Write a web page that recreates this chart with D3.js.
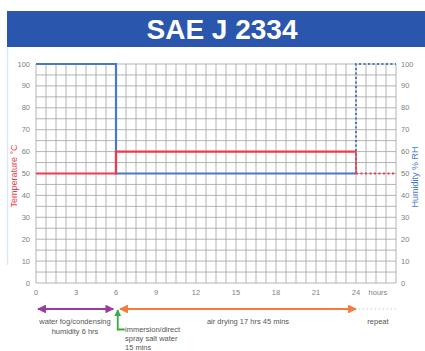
<!DOCTYPE html>
<html><head><meta charset="utf-8">
<script src="https://cdn.jsdelivr.net/npm/d3@7"></script>
<style>body{margin:0;background:#fff}svg{display:block;font-family:"Liberation Sans",Arial,sans-serif}</style>
</head><body>
<script>
const title = "SAE J 2334";
const xTicks = [0,3,6,9,12,15,18,21,24];
const yTicks = [0,10,20,30,40,50,60,70,80,90,100];
// temperature (°C) step series: hour, value
const tempHours = [0,6,24,24];
const tempValues = [50,60,60,50];
const tempRepeatHours = [24,27];
const tempRepeatValues = [50,50];
// humidity (% RH) step series
const humHours = [0,6,24];
const humValues = [100,50,50];
const humRepeatHours = [24,24,27];
const humRepeatValues = [50,100,100];
const phases = ["water fog/condensing","humidity  6 hrs"];
const phase2 = ["immersion/direct","spray salt water","15 mins"];
const phase3 = "air drying 17 hrs 45 mins";
const phase4 = "repeat";

const W=425,H=351;
const svg=d3.select("body").append("svg").attr("width",W).attr("height",H);
const x=d3.scaleLinear().domain([0,27]).range([36,396]);
const y=d3.scaleLinear().domain([0,100]).range([283,64]);
const red="#ec3c4c", blue="#4a78c8";

svg.append("rect").attr("x",7).attr("y",11).attr("width",418).attr("height",36).attr("fill","#2a57ad");
svg.append("text").attr("x",222).attr("y",39).attr("text-anchor","middle").attr("fill","#fff")
  .attr("font-size",28).attr("font-weight","bold").text(title);
svg.append("line").attr("x1",7.5).attr("x2",7.5).attr("y1",47).attr("y2",265).attr("stroke","#dfe8f6").attr("stroke-width",1.5);

// grid
const g=svg.append("g").attr("stroke","#ababab").attr("stroke-width",0.9);
g.selectAll("line.v").data(d3.range(0,27.01,0.75)).join("line")
  .attr("x1",d=>x(d)).attr("x2",d=>x(d)).attr("y1",y(100)).attr("y2",y(0));
g.selectAll("line.h").data(d3.range(0,100.01,5)).join("line")
  .attr("y1",d=>y(d)).attr("y2",d=>y(d)).attr("x1",x(0)).attr("x2",x(27));

svg.append("g").selectAll("text").data(yTicks).join("text")
  .attr("x",30).attr("y",d=>y(d)+2.5).attr("text-anchor","end").attr("fill","#808080").attr("font-size",7.5).text(d=>d);
svg.append("g").selectAll("text").data(yTicks).join("text")
  .attr("x",401).attr("y",d=>y(d)+2.5).attr("fill","#808080").attr("font-size",7.5).text(d=>d);
svg.append("g").selectAll("text").data(xTicks).join("text")
  .attr("x",d=>x(d)).attr("y",295).attr("text-anchor","middle").attr("fill","#808080").attr("font-size",7.5).text(d=>d);
svg.append("text").attr("x",378).attr("y",295).attr("text-anchor","middle").attr("fill","#808080").attr("font-size",7.5).text("hours");

svg.append("text").attr("transform","translate(17,176) rotate(-90)").attr("text-anchor","middle")
  .attr("fill",red).attr("font-size",9).text("Temperature °C");
svg.append("text").attr("transform","translate(418,177) rotate(-90)").attr("text-anchor","middle")
  .attr("fill",blue).attr("font-size",9).text("Humidity % RH");

const line=d3.line().x(d=>x(d[0])).y(d=>y(d[1]));
const step=d3.line().x(d=>x(d[0])).y(d=>y(d[1])).curve(d3.curveStepAfter);
svg.append("path").attr("d",step(d3.zip(humHours,humValues))).attr("fill","none").attr("stroke",blue).attr("stroke-width",2.2);
svg.append("path").attr("d",line(d3.zip(humRepeatHours,humRepeatValues))).attr("fill","none").attr("stroke",blue).attr("stroke-width",2).attr("stroke-dasharray","2,2.5");
svg.append("path").attr("d",step(d3.zip(tempHours.slice(0,3),tempValues.slice(0,3)))).attr("fill","none").attr("stroke",red).attr("stroke-width",2.2);
svg.append("path").attr("d",line(d3.zip(tempHours.slice(2),tempValues.slice(2)))).attr("fill","none").attr("stroke",red).attr("stroke-width",1.5);
svg.append("path").attr("d",line(d3.zip(tempRepeatHours,tempRepeatValues))).attr("fill","none").attr("stroke",red).attr("stroke-width",2).attr("stroke-dasharray","2,2.5");

// phase arrows
const defs=svg.append("defs");
function marker(id,color){
  defs.append("marker").attr("id",id).attr("viewBox","0 0 10 10").attr("refX",9).attr("refY",5)
    .attr("markerWidth",4).attr("markerHeight",4).attr("orient","auto-start-reverse").attr("markerUnits","strokeWidth")
    .append("path").attr("d","M0,0L10,5L0,10z").attr("fill",color);
}
const purple="#9a3c9e", orange="#f57a3c", green="#3aaa48";
marker("mp",purple);marker("mo",orange);marker("mg",green);
const ay=309;
svg.append("line").attr("x1",x(0)+2).attr("x2",x(5.8)).attr("y1",ay).attr("y2",ay).attr("stroke",purple).attr("stroke-width",2.2)
  .attr("marker-start","url(#mp)").attr("marker-end","url(#mp)");
svg.append("line").attr("x1",x(6.3)).attr("x2",x(24)).attr("y1",ay).attr("y2",ay).attr("stroke",orange).attr("stroke-width",2.2)
  .attr("marker-start","url(#mo)").attr("marker-end","url(#mo)");
svg.append("line").attr("x1",x(24.2)).attr("x2",x(27)).attr("y1",ay).attr("y2",ay).attr("stroke","#c8ccd4").attr("stroke-width",1.2).attr("stroke-dasharray","1.5,2.5");
svg.append("path").attr("d",`M${x(6.13)+7},329.5H${x(6.13)}V${ay+1}`).attr("fill","none").attr("stroke",green).attr("stroke-width",1.8)
  .attr("marker-end","url(#mg)");

const t1=svg.append("text").attr("text-anchor","middle").attr("fill","#555").attr("font-size",7.5);
phases.forEach((s,i)=>t1.append("tspan").attr("x",75).attr("y",324+i*9.5).text(s));
const t2=svg.append("text").attr("fill","#555").attr("font-size",7.5);
phase2.forEach((s,i)=>t2.append("tspan").attr("x",125).attr("y",332+i*9).text(s));
svg.append("text").attr("x",248).attr("y",324).attr("text-anchor","middle").attr("fill","#555").attr("font-size",7.5).text(phase3);
svg.append("text").attr("x",378).attr("y",324).attr("text-anchor","middle").attr("fill","#555").attr("font-size",7.5).text(phase4);
</script>
</body></html>
